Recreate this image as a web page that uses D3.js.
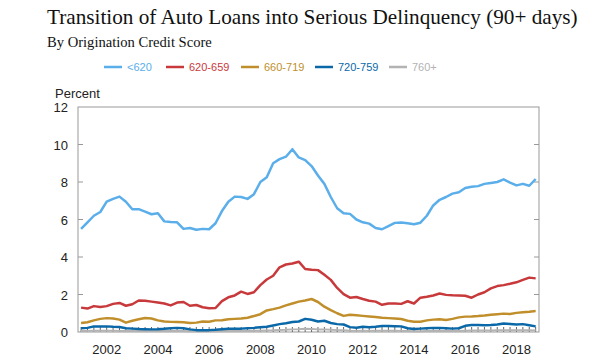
<!DOCTYPE html>
<html>
<head>
<meta charset="utf-8">
<script src="https://cdn.jsdelivr.net/npm/d3@7"></script>
<style>
  body { margin: 0; background: #fff; }
  text { font-family: "Liberation Sans", Arial, sans-serif; }
</style>
</head>
<body>
<div class="chart-area"></div>
<script>
// Serious delinquency transition by origination credit score (quarterly, 2001Q1 - 2018Q4)

const startYear = 2001;
const yearTicks = [2002, 2004, 2006, 2008, 2010, 2012, 2014, 2016, 2018];
const yTicks = [0, 2, 4, 6, 8, 10, 12];
const seriesNames = ["<620", "620-659", "660-719", "720-759", "760+"];

const below620 = [5.5, 5.85, 6.2, 6.4, 6.95, 7.1, 7.22, 6.95, 6.55, 6.55, 6.42, 6.28,
    6.33, 5.9, 5.87, 5.85, 5.5, 5.55, 5.45, 5.5, 5.48, 5.8, 6.45, 6.95,
    7.22, 7.2, 7.1, 7.35, 8.0, 8.25, 9.0, 9.22, 9.35, 9.75, 9.31, 9.17,
    8.85, 8.35, 7.9, 7.2, 6.6, 6.33, 6.3, 6.0, 5.85, 5.78, 5.55, 5.48,
    5.65, 5.82, 5.84, 5.8, 5.75, 5.83, 6.2, 6.75, 7.05, 7.2, 7.38, 7.45,
    7.68, 7.75, 7.78, 7.9, 7.95, 8.0, 8.14, 7.97, 7.82, 7.9, 7.8, 8.16];

const s620to659 = [1.3, 1.25, 1.38, 1.33, 1.38, 1.5, 1.55, 1.4, 1.48, 1.68, 1.67, 1.62,
    1.57, 1.52, 1.42, 1.57, 1.6, 1.4, 1.44, 1.32, 1.27, 1.28, 1.65, 1.85,
    1.95, 2.15, 2.03, 2.12, 2.5, 2.8, 3.0, 3.45, 3.6, 3.65, 3.75, 3.36,
    3.32, 3.3, 3.05, 2.78, 2.35, 2.02, 1.83, 1.87, 1.76, 1.67, 1.62, 1.45,
    1.52, 1.52, 1.5, 1.64, 1.52, 1.83, 1.88, 1.95, 2.05, 1.98, 1.96, 1.95,
    1.93, 1.83, 2.0, 2.12, 2.33, 2.45, 2.5, 2.57, 2.65, 2.78, 2.9, 2.86];

const s660to719 = [0.48, 0.52, 0.62, 0.7, 0.74, 0.72, 0.66, 0.5, 0.6, 0.68, 0.75, 0.72,
    0.62, 0.56, 0.54, 0.53, 0.52, 0.48, 0.5, 0.56, 0.55, 0.62, 0.63, 0.68,
    0.7, 0.72, 0.76, 0.85, 0.95, 1.15, 1.22, 1.3, 1.42, 1.52, 1.62, 1.68,
    1.76, 1.6, 1.35, 1.17, 1.0, 0.86, 0.92, 0.89, 0.86, 0.83, 0.8, 0.76,
    0.74, 0.72, 0.69, 0.6, 0.55, 0.55, 0.62, 0.66, 0.68, 0.64, 0.7, 0.78,
    0.82, 0.83, 0.85, 0.88, 0.92, 0.95, 0.98, 0.96, 1.02, 1.05, 1.08, 1.12];

const s720to759 = [0.2, 0.22, 0.3, 0.3, 0.3, 0.28, 0.27, 0.2, 0.18, 0.16, 0.15, 0.14,
    0.15, 0.17, 0.2, 0.22, 0.2, 0.14, 0.1, 0.1, 0.1, 0.12, 0.15, 0.17,
    0.18, 0.18, 0.2, 0.22, 0.25, 0.28, 0.35, 0.42, 0.47, 0.53, 0.56, 0.7,
    0.65, 0.56, 0.6, 0.48, 0.42, 0.4, 0.26, 0.23, 0.28, 0.25, 0.28, 0.32,
    0.32, 0.31, 0.3, 0.2, 0.16, 0.18, 0.2, 0.22, 0.22, 0.2, 0.18, 0.2,
    0.33, 0.37, 0.37, 0.36, 0.37, 0.4, 0.45, 0.43, 0.4, 0.42, 0.36, 0.3];

const s760plus = [0.06, 0.06, 0.07, 0.07, 0.07, 0.07, 0.06, 0.06, 0.05, 0.05, 0.05, 0.05,
    0.05, 0.05, 0.06, 0.06, 0.05, 0.04, 0.04, 0.04, 0.04, 0.04, 0.05, 0.05,
    0.05, 0.05, 0.06, 0.06, 0.07, 0.08, 0.09, 0.11, 0.12, 0.14, 0.15, 0.17,
    0.16, 0.14, 0.14, 0.12, 0.1, 0.09, 0.07, 0.06, 0.07, 0.06, 0.07, 0.07,
    0.07, 0.07, 0.06, 0.05, 0.04, 0.04, 0.05, 0.05, 0.05, 0.05, 0.05, 0.05,
    0.07, 0.08, 0.08, 0.08, 0.08, 0.09, 0.1, 0.1, 0.09, 0.1, 0.09, 0.08];

const allSeries = [below620, s620to659, s660to719, s720to759, s760plus];

const color = d3.scaleOrdinal()
    .domain(seriesNames)
    .range(["#5aaeea", "#c8393b", "#c08f2c", "#0a68a8", "#b3b3b3"]);

const W = 600, H = 363;
const plot = { left: 78, right: 539, top: 107, bottom: 332 };

const svg = d3.select(".chart-area")
    .append("svg")
    .attr("width", W)
    .attr("height", H);

const x = d3.scaleLinear().domain([2000.88, 2018.88]).range([plot.left, plot.right]);
const y = d3.scaleLinear().domain([0, 12]).range([plot.bottom, plot.top]);

// Title and subtitle, sized to fit the reference widths
function fitText(sel, target) {
    const w = sel.node().getComputedTextLength();
    const fs = parseFloat(sel.attr("font-size"));
    sel.attr("font-size", fs * target / w);
}

const title = svg.append("text")
    .attr("x", 47).attr("y", 24)
    .attr("font-family", "'Liberation Serif', 'DejaVu Serif', serif")
    .style("font-family", "'Liberation Serif', serif")
    .attr("font-size", 20)
    .attr("fill", "#111")
    .text("Transition of Auto Loans into Serious Delinquency (90+ days)");
fitText(title, 531);

const subtitle = svg.append("text")
    .attr("x", 47).attr("y", 47)
    .style("font-family", "'Liberation Serif', serif")
    .attr("font-size", 13)
    .attr("fill", "#111")
    .text("By Origination Credit Score");
fitText(subtitle, 165);

// Legend
const legendX = [104, 166, 241, 315, 389];
seriesNames.forEach((name, i) => {
    const g = svg.append("g").attr("transform", `translate(${legendX[i]},67)`);
    g.append("line").attr("x1", 0).attr("x2", 18).attr("y1", 0).attr("y2", 0)
        .attr("stroke", color(name)).attr("stroke-width", 2.5);
    g.append("text").attr("x", 23).attr("y", 4)
        .attr("font-size", 11).attr("fill", color(name)).text(name);
});

svg.append("text")
    .attr("x", 55).attr("y", 98)
    .attr("font-size", 13).attr("fill", "#222")
    .text("Percent");

// Frame
svg.append("rect")
    .attr("x", plot.left).attr("y", plot.top)
    .attr("width", plot.right - plot.left).attr("height", plot.bottom - plot.top)
    .attr("fill", "none").attr("stroke", "#999").attr("stroke-width", 1);

// Y labels and inward ticks on both sides
svg.append("g").selectAll("text")
    .data(yTicks).enter().append("text")
    .attr("x", 68).attr("y", d => y(d) + 5)
    .attr("text-anchor", "end").attr("font-size", 13).attr("fill", "#222")
    .text(d => d);

const yt = yTicks.filter(d => d > 0 && d < 12);
svg.append("g").selectAll("line.l")
    .data(yt).enter().append("line")
    .attr("x1", plot.left).attr("x2", plot.left + 5)
    .attr("y1", d => y(d)).attr("y2", d => y(d))
    .attr("stroke", "#999");
svg.append("g").selectAll("line.r")
    .data(yt).enter().append("line")
    .attr("x1", plot.right - 5).attr("x2", plot.right)
    .attr("y1", d => y(d)).attr("y2", d => y(d))
    .attr("stroke", "#999");

// X labels
svg.append("g").selectAll("text")
    .data(yearTicks).enter().append("text")
    .attr("x", d => x(d)).attr("y", 354)
    .attr("text-anchor", "middle").attr("font-size", 13).attr("fill", "#222")
    .text(d => d);

// Quarterly minor ticks along the bottom
const quarters = d3.range(startYear, 2019, 0.25);
svg.append("g").selectAll("line")
    .data(quarters).enter().append("line")
    .attr("x1", d => x(d)).attr("x2", d => x(d))
    .attr("y1", plot.bottom).attr("y2", plot.bottom - 5)
    .attr("stroke", "#666").attr("stroke-width", 1);

// Lines (draw highest-score series first so <620 sits on top)
const line = d3.line()
    .x((d, i) => x(startYear + i / 4))
    .y(d => y(d));

for (let i = allSeries.length - 1; i >= 0; i--) {
    svg.append("path")
        .datum(allSeries[i])
        .attr("fill", "none")
        .attr("stroke", color(seriesNames[i]))
        .attr("stroke-width", i === 4 ? 2 : 2.5)
        .attr("stroke-linejoin", "round")
        .attr("d", line);
}
</script>
</body>
</html>
